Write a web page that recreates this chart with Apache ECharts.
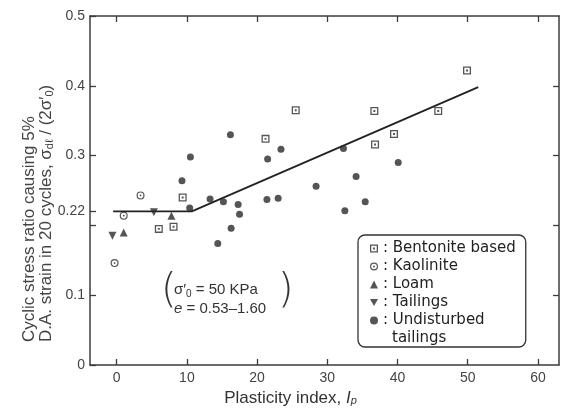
<!DOCTYPE html>
<html>
<head>
<meta charset="utf-8">
<script src="https://cdn.jsdelivr.net/npm/echarts@6/dist/echarts.min.js"></script>
<style>
  html, body { margin: 0; padding: 0; background: #fff; }
  #chart { width: 568px; height: 413px; }
</style>
</head>
<body>
<div id="chart"></div>
<script>
// values: [plasticity index, cyclic stress ratio]
var bentonite = [[6.0, 0.195], [8.1, 0.198], [9.4, 0.240], [21.2, 0.324], [25.5, 0.365],
  [36.7, 0.364], [36.8, 0.316], [39.5, 0.331], [45.8, 0.364], [49.9, 0.422]];
var kaolinite = [[-0.3, 0.146], [1.0, 0.214], [3.4, 0.243]];
var loam = [[1.0, 0.190], [7.8, 0.214]];
var tailings = [[-0.6, 0.185], [5.3, 0.219]];
var undisturbed = [[9.3, 0.264], [10.5, 0.298], [10.4, 0.225], [13.3, 0.238], [14.4, 0.174],
  [15.2, 0.234], [16.2, 0.330], [16.3, 0.196], [17.3, 0.230], [17.5, 0.216], [21.4, 0.237],
  [21.5, 0.295], [23.0, 0.239], [23.4, 0.309], [28.4, 0.256], [32.3, 0.310], [32.5, 0.221],
  [34.1, 0.270], [35.4, 0.234], [40.1, 0.290]];
var trendLine = [[-0.5, 0.22], [10.7, 0.22], [51.5, 0.398]];

var xTicks = [0, 10, 20, 30, 40, 50, 60];
var yLabels = [0, 0.1, 0.22, 0.3, 0.4, 0.5];
var yTicks = [0, 0.1, 0.2, 0.22, 0.3, 0.4, 0.5];
var yTicksRight = [0.1, 0.2, 0.3, 0.4];

var ink = '#2b2b2b';
var axisInk = '#3c3c3c';
var sans = '"Liberation Sans", Arial, sans-serif';
var legendFont = '"DejaVu Sans", sans-serif';

// square with a dot inside, circle with a dot inside, downward triangle
var boxDot = 'path://M0,0H10V10H0Z M1.6,1.6V8.4H8.4V1.6Z M3.8,3.8H6.2V6.2H3.8Z';
var ringDot = 'path://M5,0A5,5 0 1,1 5,10A5,5 0 1,1 5,0Z M5,1.5A3.5,3.5 0 1,0 5,8.5A3.5,3.5 0 1,0 5,1.5Z M5,3.8A1.2,1.2 0 1,1 5,6.2A1.2,1.2 0 1,1 5,3.8Z';
var triDown = 'path://M0,0H10L5,8.7Z';

var myChart = echarts.init(document.getElementById('chart'));

var axisCommon = {
  type: 'value',
  splitLine: { show: false },
  axisLine: { show: true, onZero: false, lineStyle: { color: axisInk, width: 1.5 } },
  axisTick: { inside: true, length: 6, lineStyle: { color: axisInk, width: 1.3 } }
};

option = {
  backgroundColor: '#fff',
  animation: false,
  grid: { left: 90, right: 9, top: 16, bottom: 48 },
  xAxis: [
    Object.assign({}, axisCommon, {
      position: 'bottom',
      min: -3.8, max: 63,
      axisTick: Object.assign({}, axisCommon.axisTick, { customValues: xTicks }),
      axisLabel: { customValues: xTicks, color: '#444', fontSize: 14, fontFamily: sans, margin: 6 },
      name: 'Plasticity index, {i|I}{p|p}',
      nameLocation: 'middle',
      nameGap: 24,
      nameTextStyle: {
        color: '#333', fontSize: 17, fontFamily: sans, verticalAlign: 'top',
        padding: [0, 68, 0, 0],
        rich: {
          i: { fontSize: 17, fontStyle: 'italic', fontFamily: sans, color: '#333' },
          p: { fontSize: 11, fontStyle: 'italic', fontFamily: sans, color: '#333', verticalAlign: 'bottom', lineHeight: 13 }
        }
      }
    }),
    Object.assign({}, axisCommon, {
      position: 'top',
      min: -3.8, max: 63,
      axisTick: Object.assign({}, axisCommon.axisTick, { customValues: xTicks }),
      axisLabel: { show: false }
    })
  ],
  yAxis: [
    Object.assign({}, axisCommon, {
      position: 'left',
      min: 0, max: 0.5,
      axisTick: Object.assign({}, axisCommon.axisTick, { customValues: yTicks }),
      axisLabel: { customValues: yLabels, color: '#444', fontSize: 14, fontFamily: sans, margin: 5 }
    }),
    Object.assign({}, axisCommon, {
      position: 'right',
      min: 0, max: 0.5,
      axisTick: Object.assign({}, axisCommon.axisTick, { customValues: yTicksRight }),
      axisLabel: { show: false }
    })
  ],
  legend: {
    orient: 'vertical',
    left: 358, top: 235,
    data: ['Bentonite based', 'Kaolinite', 'Loam', 'Tailings', 'Undisturbed'],
    itemWidth: 8, itemHeight: 8, itemGap: 1,
    backgroundColor: '#fff',
    borderColor: '#333', borderWidth: 1.3, borderRadius: 7,
    padding: [5, 10, 18, 12],
    formatter: function (n) { return ': ' + n; },
    textStyle: { fontFamily: legendFont, fontSize: 15, color: '#222', lineHeight: 17 }
  },
  graphic: [
    // y axis title, two lines reading bottom to top
    {
      type: 'text', x: 21, y: 342, rotation: Math.PI / 2,
      style: {
        text: 'Cyclic stress ratio causing 5%\nD.A. strain in 20 cycles, σ{s|dℓ} / (2σ′{s|0})',
        align: 'left', verticalAlign: 'top',
        fontSize: 17, fontFamily: sans, fill: '#444', lineHeight: 17,
        rich: {
          s: { fontSize: 11, fontFamily: sans, fill: '#444', verticalAlign: 'bottom', lineHeight: 12 }
        }
      }
    },
    // second line of the last legend entry
    {
      type: 'text', x: 392, y: 338, z: 100,
      style: { text: 'tailings', fontSize: 15, fontFamily: legendFont, fill: '#222', verticalAlign: 'middle' }
    },
    { type: 'text', left: 161, top: 272, style: { text: '(', fontSize: 40, fontWeight: 200, fontFamily: legendFont, fill: '#333' } },
    { type: 'text', left: 278, top: 272, style: { text: ')', fontSize: 40, fontWeight: 200, fontFamily: legendFont, fill: '#333' } },
    {
      type: 'text', left: 174, top: 280,
      style: {
        text: 'σ′{s|0} = 50 KPa\n{i|e} = 0.53–1.60',
        fontSize: 15, fontFamily: sans, fill: '#333', lineHeight: 19,
        rich: {
          s: { fontSize: 10, fontFamily: sans, fill: '#333', verticalAlign: 'bottom', lineHeight: 12 },
          i: { fontSize: 15, fontStyle: 'italic', fontFamily: sans, fill: '#333' }
        }
      }
    }
  ],
  series: [
    {
      name: 'fit', type: 'line', data: trendLine, symbol: 'none', silent: true,
      lineStyle: { color: '#222', width: 1.8 }, z: 1
    },
    {
      name: 'Bentonite based', type: 'scatter', data: bentonite,
      symbol: boxDot, symbolSize: 8, itemStyle: { color: ink }
    },
    {
      name: 'Kaolinite', type: 'scatter', data: kaolinite,
      symbol: ringDot, symbolSize: 8, itemStyle: { color: ink }
    },
    {
      name: 'Loam', type: 'scatter', data: loam,
      symbol: 'triangle', symbolSize: 8, itemStyle: { color: ink }
    },
    {
      name: 'Tailings', type: 'scatter', data: tailings,
      symbol: triDown, symbolSize: 8, itemStyle: { color: ink }
    },
    {
      name: 'Undisturbed', type: 'scatter', data: undisturbed,
      symbol: 'circle', symbolSize: 7, itemStyle: { color: ink }
    }
  ]
};

myChart.setOption(option);
</script>
</body>
</html>
